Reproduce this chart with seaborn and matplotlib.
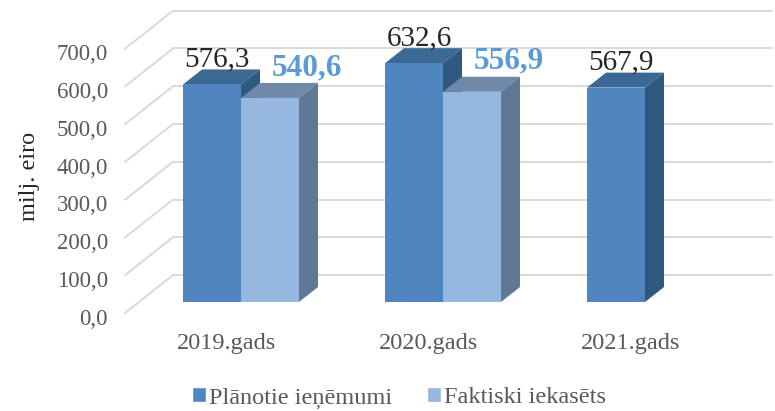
import numpy as np
import pandas as pd
import matplotlib
matplotlib.use("Agg")
import matplotlib.pyplot as plt
from matplotlib.patches import Polygon, Patch
import seaborn as sns

# Data
years = ["2019.gads", "2020.gads", "2021.gads"]
planned = [576.3, 632.6, 567.9]
actual = [540.6, 556.9, np.nan]
series = ["Plānotie ieņēmumi", "Faktiski iekasēts"]
ticks = [0, 100, 200, 300, 400, 500, 600, 700]

df = pd.DataFrame({
    "gads": years * 2,
    "vertiba": planned + actual,
    "serija": [series[0]] * 3 + [series[1]] * 3,
})

# Colours: front, top, side
front = ["#4F86BF", "#95B7E0"]
top = ["#3C6894", "#7089A8"]
side = ["#2F587E", "#5F7896"]
grid_c = "#D9D9D9"
text_c = "#595959"
serif = ["Liberation Serif", "DejaVu Sans"]

sns.set_theme(style="white")
plt.rcParams["font.family"] = serif

W, H = 775, 411
fig = plt.figure(figsize=(W / 100, H / 100), dpi=100)
ax = fig.add_axes([0, 0, 1, 1])

sns.barplot(data=df, x="gads", y="vertiba", hue="serija", palette=front,
            width=0.574, saturation=1, legend=False, ax=ax, linewidth=0)

# pixel scale of the bar plane
x0_px, sx = 241, 202.0      # category 0 centre, px per category
y0_px, sy = 302, 0.3775     # value 0 baseline, px per unit
ax.set_xlim(-x0_px / sx, (W - x0_px) / sx)
ax.set_ylim(-(H - y0_px) / sy, y0_px / sy)
ax.axis("off")


def px(dx, dy):
    """pixel offset (screen, y down) -> data offset"""
    return dx / sx, -dy / sy


fdx, fdy = px(-14, 11)   # front plane
bdx, bdy = px(34, -27)   # back wall
ddx, ddy = px(19, -15)   # bar depth
xl = -0.505
xr = 2.63

# walls / gridlines
for v in ticks:
    ax.plot([xl + fdx, xl + bdx], [v + fdy, v + bdy], color=grid_c, lw=1.4, zorder=0)
    ax.plot([xl + bdx, xr], [v + bdy, v + bdy], color=grid_c, lw=1.4, zorder=0)
    ax.text(xl + fdx - 17 / sx, v + fdy - 6 / sy, f"{v:.1f}".replace(".", ","),
            ha="right", va="center", fontsize=16.5, color=text_c)

ax.text(-(x0_px - 30) / sx, (y0_px - 176) / sy, "milj. eiro", rotation=90,
        ha="center", va="center", fontsize=17.5, color="#262626")

# extrude bars into 3D
bars = list(ax.patches)
for i, p in enumerate(bars):
    h = p.get_height()
    if np.isnan(h) or h == 0:
        continue
    k = 0 if np.allclose(p.get_facecolor()[:3], matplotlib.colors.to_rgb(front[0])) else 1
    x, w = p.get_x(), p.get_width()
    z = 3 + 2 * (i % 3) + k * 0.5
    p.set_zorder(z + 0.2)
    ax.add_patch(Polygon([(x, h), (x + w, h), (x + w + ddx, h + ddy), (x + ddx, h + ddy)],
                         closed=True, fc=top[k], ec="none", zorder=z))
    ax.add_patch(Polygon([(x + w, 0), (x + w + ddx, ddy), (x + w + ddx, h + ddy), (x + w, h)],
                         closed=True, fc=side[k], ec="none", zorder=z))
    cx = x + w / 2
    if k == 0:
        ax.text(cx + 5 / sx, h + ddy + 3 / sy, f"{h:.1f}".replace(".", ","),
                ha="center", va="baseline", fontsize=21, color="#262626", zorder=20)
    else:
        ax.text(cx + 37 / sx, h + ddy + 8 / sy, f"{h:.1f}".replace(".", ","),
                ha="center", va="baseline", fontsize=22.5, fontweight="bold",
                color="#5B9BD5", zorder=20)

# category labels on the front plane
for i, yr in enumerate(years):
    ax.text(i + fdx, -(343 - y0_px) / sy, yr, ha="center", va="center",
            fontsize=17.5, color=text_c)

handles = [Patch(facecolor=front[0]), Patch(facecolor=front[1])]
leg = fig.legend(handles, series, loc="center", bbox_to_anchor=(399 / W, 1 - 398 / H),
                 ncol=2, frameon=False, handlelength=0.58, handleheight=0.58,
                 handletextpad=0.15, columnspacing=1.4, labelcolor=text_c,
                 prop={"family": serif, "size": 17.5})

fig.savefig("out.png", dpi=100)
